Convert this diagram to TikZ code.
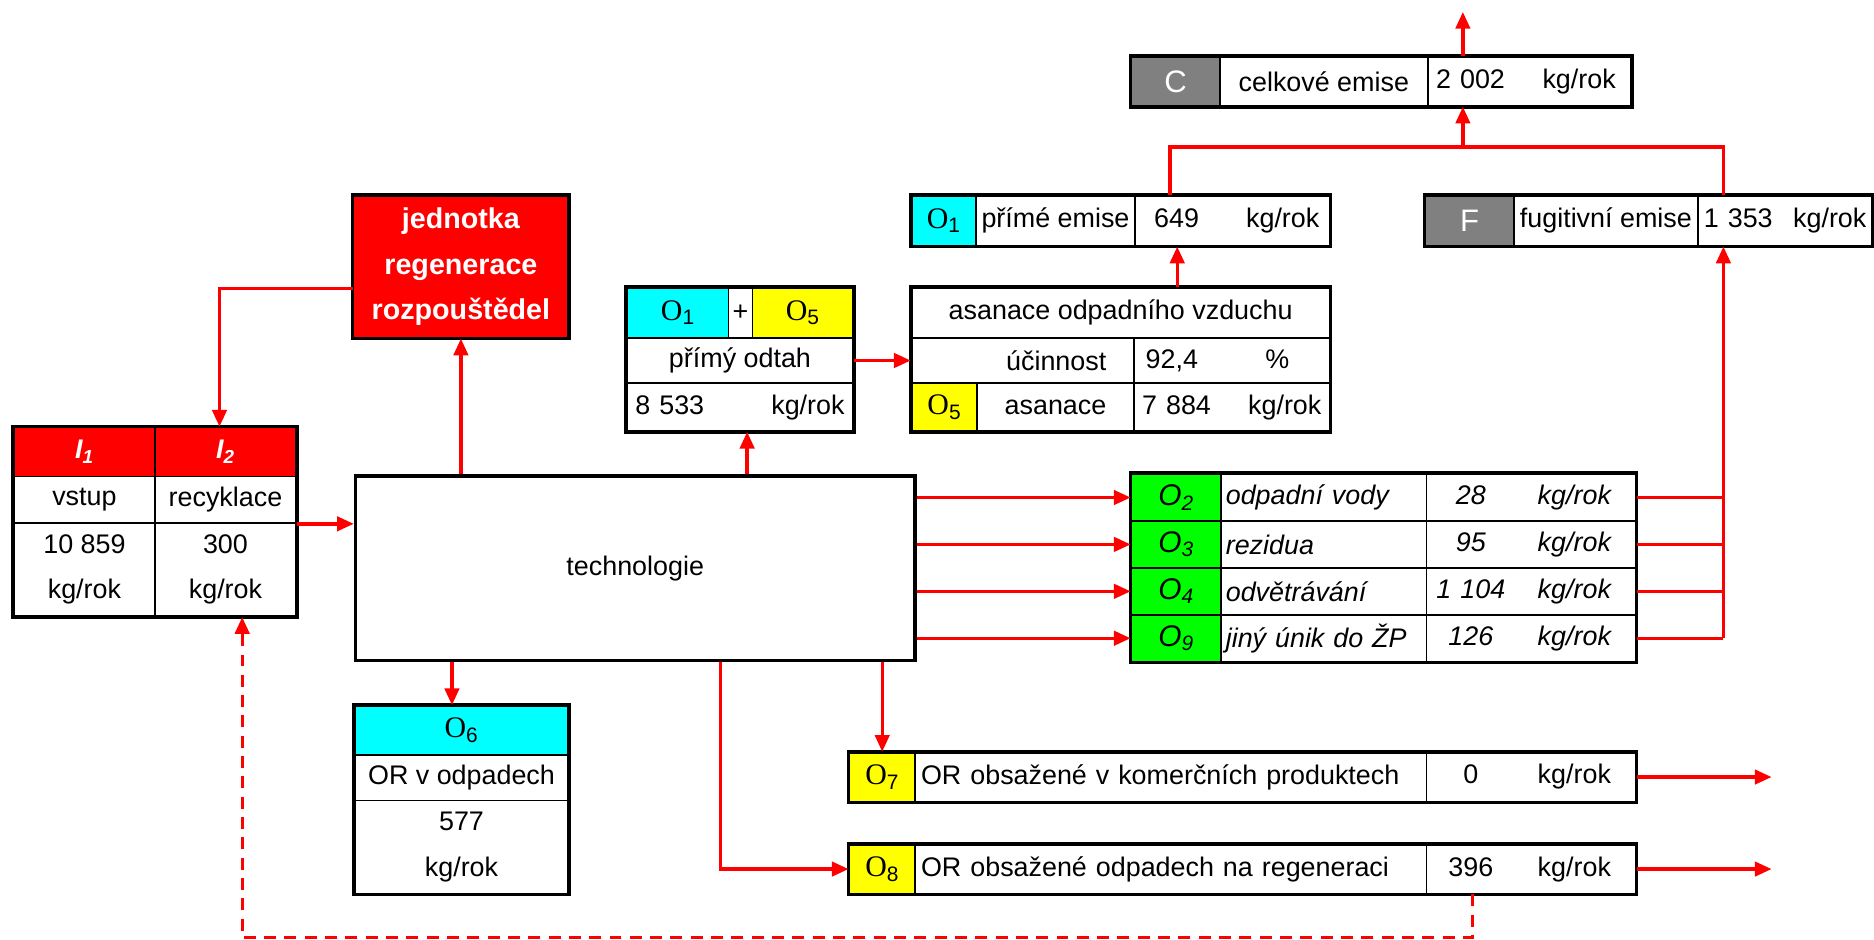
\documentclass[tikz,border=0pt]{standalone}
\usepackage{fontspec}
\setmainfont{Liberation Sans}
\newfontfamily\timesfont{Liberation Serif}
\usetikzlibrary{arrows.meta}
\definecolor{emgray}{RGB}{128,128,128}
\definecolor{emred}{RGB}{255,0,0}
\definecolor{emcyan}{RGB}{0,255,255}
\definecolor{emyellow}{RGB}{255,255,0}
\definecolor{emgreen}{RGB}{0,255,0}
\newcommand{\olab}[1]{{\timesfont\fontsize{25}{25}\selectfont O\textsubscript{\rmfamily#1}}}
\newcommand{\glab}[1]{{\fontsize{25}{25}\selectfont\itshape O\textsubscript{#1}}}

\begin{document}
\begin{tikzpicture}[x=1pt, y=-1pt,
	every node/.style={font=\fontsize{22.5}{26}\selectfont},
	cell/.style 2 args={draw, line width=1.3pt, inner sep=0pt, anchor=north west, minimum width=#1, minimum height=#2},
	frame/.style={draw, line width=3pt},
	flow/.style={emred, line width=2.8pt, -{Triangle[length=14pt,width=12pt]}},
	pipe/.style={emred, line width=2.8pt},
	back/.style={flow, dash pattern=on 10pt off 7pt},
	tall/.style={align=center, font=\fontsize{22.5}{38}\selectfont},
	pair/.style={text width=#1, align=left},
	it/.style={font=\fontsize{22.5}{26}\selectfont\itshape}
	]
	\useasboundingbox (0,0) rectangle (1568,786);

	\node[cell={118}{41}, fill=emred, text=white] (i1h) at (11,357) {\bfseries\itshape I\textsubscript{1}};
	\node[cell={118}{41}, fill=emred, text=white] (i2h) at (129,357) {\bfseries\itshape I\textsubscript{2}};
	\node[cell={118}{39}] (i1a) at (11,398) {vstup};
	\node[cell={118}{39}] (i2a) at (129,398) {recyklace};
	\node[cell={118}{78}, tall] (i1b) at (11,437) {10 859\\kg/rok};
	\node[cell={118}{78}, tall] (i2b) at (129,437) {300\\kg/rok};
	\draw[frame] (i1h.north west) rectangle (i2b.south east);

	\node[cell={180}{119}, fill=emred, text=white, tall, font=\bfseries\fontsize{24}{38}\selectfont] (regen) at (295,163) {jednotka\\regenerace\\rozpouštědel};
	\draw[frame] (regen.north west) rectangle (regen.south east);

	\node[cell={468}{154}, line width=3pt] (tech) at (296,397) {technologie};

	\node[cell={85}{42}, fill=emcyan] (pa) at (524,240) {\olab{1}};
	\node[cell={20}{42}] (pp) at (609,240) {+};
	\node[cell={84}{42}, fill=emyellow] (pb) at (629,240) {\olab{5}};
	\node[cell={189}{38}] (pc) at (524,282) {přímý odtah};
	\node[cell={189}{40}, pair=175pt] (pd) at (524,320) {8 533\hfill kg/rok};
	\draw[frame] (pa.north west) rectangle (pd.south east);

	\node[cell={350}{42}] (aa) at (762,240) {asanace odpadního vzduchu};
	\node[cell={186}{38}, text width=140pt, align=right] (ab) at (762,282) {účinnost};
	\node[cell={164}{38}, pair=150pt] (ac) at (948,282) {\hspace*{3pt}92,4\hfill\makebox[47pt][l]{\%}};
	\node[cell={55}{40}, fill=emyellow] (ad) at (762,320) {\olab{5}};
	\node[cell={131}{40}] (ae) at (817,320) {asanace};
	\node[cell={164}{40}, pair=150pt] (af) at (948,320) {7 884\hfill kg/rok};
	\draw[frame] (aa.north west) rectangle (af.south east);

	\node[cell={54}{42}, fill=emcyan] (ea) at (762,163) {\olab{1}};
	\node[cell={133}{42}] (eb) at (816,163) {přímé emise};
	\node[cell={163}{42}, pair=149pt] (ec) at (949,163) {\hspace*{9pt}649\hfill\makebox[63pt][l]{kg/rok}};
	\draw[frame] (ea.north west) rectangle (ec.south east);

	\node[cell={74}{42}, fill=emgray, text=white, font=\fontsize{26}{26}\selectfont] (fa) at (1192,163) {F};
	\node[cell={154}{42}] (fb) at (1266,163) {fugitivní emise};
	\node[cell={146}{42}, pair=136pt] (fc) at (1420,163) {1 353\hfill kg/rok};
	\draw[frame] (fa.north west) rectangle (fc.south east);

	\node[cell={74}{41}, fill=emgray, text=white, font=\fontsize{26}{26}\selectfont] (ca) at (946,47) {C};
	\node[cell={174}{41}] (cb) at (1020,47) {celkové emise};
	\node[cell={170}{41}, pair=156pt] (cc) at (1194,47) {2 002\hfill\makebox[67pt][l]{kg/rok}};
	\draw[frame] (ca.north west) rectangle (cc.south east);

	\foreach \n/\y/\t/\v in {2/396/odpadní vody/28, 3/435.25/rezidua/95, 4/474.5/odvětrávání/1 104, 9/513.75/jiný únik do ŽP/126} {
		\node[cell={75}{39.25}, fill=emgreen] (gl\n) at (946,\y) {\glab{\n}};
		\node[cell={172}{39.25}, pair=164pt, it] (gt\n) at (1021,\y) {\t};
		\node[cell={175}{39.25}, pair=161pt, it] (gv\n) at (1193,\y) {\makebox[60pt]{\v}\hfill\makebox[75pt][l]{kg/rok}};
	}
	\draw[frame] (gl2.north west) rectangle (gv9.south east);

	\node[cell={179}{41}, fill=emcyan] (o6a) at (296,590) {\olab{6}};
	\node[cell={179}{38}] (o6b) at (296,631) {OR v odpadech};
	\node[cell={179}{78}, tall] (o6c) at (296,669) {577\\kg/rok};
	\draw[frame] (o6a.north west) rectangle (o6c.south east);

	\node[cell={55}{41}, fill=emyellow] (o7a) at (710,629) {\olab{7}};
	\node[cell={428}{41}, pair=418pt] (o7b) at (765,629) {OR obsažené v komerčních produktech};
	\node[cell={175}{41}, pair=161pt] (o7c) at (1193,629) {\makebox[60pt]{0}\hfill\makebox[75pt][l]{kg/rok}};
	\draw[frame] (o7a.north west) rectangle (o7c.south east);

	\node[cell={55}{41}, fill=emyellow] (o8a) at (710,706) {\olab{8}};
	\node[cell={428}{41}, pair=418pt] (o8b) at (765,706) {OR obsažené odpadech na regeneraci};
	\node[cell={175}{41}, pair=161pt] (o8c) at (1193,706) {\makebox[60pt]{396}\hfill\makebox[75pt][l]{kg/rok}};
	\draw[frame] (o8a.north west) rectangle (o8c.south east);

	\coordinate (jn) at (1224,123);
	\coordinate (cout) at (1224,10);
	\coordinate (fj) at ([xshift=22pt]fc.south west);
	\coordinate (pdin) at ([xshift=6pt]pd.south);
	\coordinate (o1in) at ([xshift=36pt]ec.south west);
	\coordinate (o6in) at ([xshift=-8pt]o6a.north);

	\draw[flow] ([yshift=-18pt]regen.west) -| ([xshift=-5pt]i2h.north);
	\draw[flow] (tech.north -| regen.south) -- (regen.south);
	\draw[flow] (i2a.south east) -- (i2a.south east -| tech.west);
	\draw[flow] (tech.north -| pdin) -- (pdin);
	\draw[flow] (pc.east) -- (pc.east -| ab.west);
	\draw[flow] (aa.north -| o1in) -- (o1in);
	\draw[pipe] ([xshift=30pt]ec.north west) |- (jn) -| (fc.north -| fj);
	\draw[flow] (jn) -- (jn |- cc.south);
	\draw[flow] (cc.north -| cout) -- (cout);
	\foreach \n in {2,3,4,9} {
		\draw[flow] (tech.east |- gl\n.west) -- (gl\n.west);
		\draw[pipe] (gv\n.east) -- (gv\n.east -| fj);
	}
	\draw[flow] (gv9.east -| fj) -- (fj);
	\draw[flow] (tech.south -| o6in) -- (o6in);
	\draw[flow] (tech.south -| o7a.north) -- (o7a.north);
	\draw[flow] ([xshift=307pt]tech.south west) |- (o8a.west);
	\draw[flow] (o7c.east) -- ([xshift=113pt]o7c.east);
	\draw[flow] (o8c.east) -- ([xshift=113pt]o8c.east);
	\draw[back] ([xshift=39pt]o8c.south west) -- ++(0,36) -| ([xshift=14pt]i2b.south);
\end{tikzpicture}
\end{document}
